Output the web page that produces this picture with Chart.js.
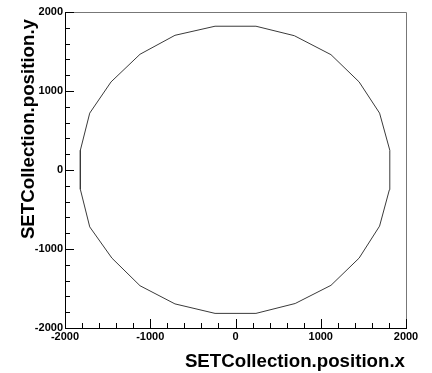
<!DOCTYPE html>
<html>
<head>
<meta charset="utf-8">
<script src="https://cdn.jsdelivr.net/npm/chart.js@4"></script>
<style>
  body { margin: 0; background: #fff; }
</style>
</head>
<body>
<canvas id="c" width="432" height="373"></canvas>
<script>
// polygon vertices, going round counter-clockwise
const vertexX = [1810, 1690, 1450, 1120, 690, 240, -240, -710, -1120, -1460, -1710, -1820,
                 -1820, -1710, -1450, -1120, -710, -240, 240, 700, 1120, 1450, 1690, 1805, 1810];
const vertexY = [250, 720, 1115, 1460, 1700, 1820, 1820, 1705, 1465, 1115, 720, 250,
                 -245, -720, -1115, -1465, -1695, -1815, -1815, -1690, -1460, -1115, -710, -250, 250];
const axisRange = [-2000, 2000];
const majorStep = 1000;
const minorStep = 200;
const xTitle = 'SETCollection.position.x';
const yTitle = 'SETCollection.position.y';

const FONT = '"Liberation Sans", Arial, Helvetica, sans-serif';

// ROOT style frame: inward ticks, grey frame, titles at the axis ends
const rootFrame = {
  id: 'rootFrame',
  afterDraw(chart) {
    const { ctx, chartArea: a, scales: { x, y } } = chart;
    ctx.save();
    ctx.lineWidth = 1;
    ctx.strokeStyle = '#777';
    ctx.beginPath();
    ctx.moveTo(a.left, a.top + 0.5);
    ctx.lineTo(a.right + 0.5, a.top + 0.5);
    ctx.lineTo(a.right + 0.5, a.bottom);
    ctx.stroke();

    ctx.strokeStyle = '#000';
    ctx.beginPath();
    ctx.moveTo(a.left + 0.5, a.top);
    ctx.lineTo(a.left + 0.5, a.bottom + 0.5);
    ctx.lineTo(a.right + 1, a.bottom + 0.5);
    for (let v = axisRange[0]; v <= axisRange[1]; v += minorStep) {
      const len = v % majorStep === 0 ? 9 : 5;
      const px = Math.round(x.getPixelForValue(v)) + 0.5;
      ctx.moveTo(px, a.bottom);
      ctx.lineTo(px, a.bottom - len);
      const py = Math.round(y.getPixelForValue(v)) + 0.5;
      ctx.moveTo(a.left, py);
      ctx.lineTo(a.left + len, py);
    }
    ctx.stroke();

    ctx.fillStyle = '#000';
    ctx.font = 'bold 18.7px ' + FONT;
    ctx.textAlign = 'right';
    ctx.textBaseline = 'alphabetic';
    ctx.fillText(xTitle, a.right - 1, 367);

    ctx.translate(34, 19);
    ctx.rotate(-Math.PI / 2);
    ctx.fillText(yTitle, 0, 0);
    ctx.restore();
  }
};

const tickLabel = v => (v % majorStep === 0 ? String(v) : '');

new Chart(document.getElementById('c'), {
  type: 'scatter',
  data: {
    datasets: [{
      data: vertexX.map((vx, i) => ({ x: vx, y: vertexY[i] })),
      showLine: true,
      borderColor: '#3a3a3a',
      borderWidth: 1,
      pointRadius: 0,
      tension: 0
    }]
  },
  options: {
    responsive: false,
    animation: false,
    devicePixelRatio: 1,
    layout: { padding: { top: 12, right: 26, left: 0, bottom: 0 } },
    plugins: {
      legend: { display: false },
      tooltip: { enabled: false }
    },
    scales: {
      x: {
        type: 'linear',
        min: axisRange[0],
        max: axisRange[1],
        grid: { display: false, drawTicks: false },
        border: { display: false },
        ticks: {
          stepSize: majorStep,
          autoSkip: false,
          maxRotation: 0,
          padding: 2,
          color: '#000',
          font: { family: FONT, size: 11, weight: 'bold' },
          callback: tickLabel
        },
        afterFit: s => { s.height = 45; }
      },
      y: {
        type: 'linear',
        min: axisRange[0],
        max: axisRange[1],
        grid: { display: false, drawTicks: false },
        border: { display: false },
        ticks: {
          stepSize: majorStep,
          autoSkip: false,
          padding: 2,
          color: '#000',
          font: { family: FONT, size: 11, weight: 'bold' },
          callback: tickLabel
        },
        afterFit: s => { s.width = 65; }
      }
    }
  },
  plugins: [rootFrame]
});
</script>
</body>
</html>
